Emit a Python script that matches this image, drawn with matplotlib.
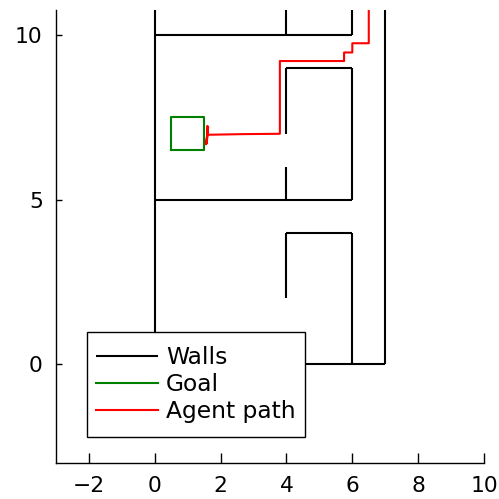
import numpy as np
import matplotlib
matplotlib.use("Agg")
import matplotlib.pyplot as plt
from matplotlib.path import Path

# Maze walls as line segments: (x0, y0, x1, y1)
wall_segments = [
    (0, 0, 0, 11),
    (0, 10, 6, 10),
    (4, 10, 4, 11),
    (6, 10, 6, 11),
    (4, 7, 4, 9),
    (4, 9, 6, 9),
    (6, 9, 6, 5),
    (6, 5, 0, 5),
    (4, 5, 4, 6),
    (4, 2, 4, 4),
    (4, 4, 6, 4),
    (6, 4, 6, 0),
    (0, 0, 7, 0),
    (7, 0, 7, 11),
]

# Goal region (square)
goal_x = [0.5, 1.5, 1.5, 0.5, 0.5]
goal_y = [6.5, 6.5, 7.5, 7.5, 6.5]

# Agent trajectory
path_x = [6.5, 6.5, 6.0, 6.0, 5.75, 5.75, 3.8, 3.8, 2.7, 1.6,
          1.6, 1.58, 1.62, 1.56, 1.61, 1.6]
path_y = [11.0, 9.75, 9.75, 9.47, 9.47, 9.21, 9.21, 7.0, 6.99, 6.97,
          7.24, 6.72, 7.2, 6.68, 7.1, 6.98]

xlim = (-3, 10)
ylim = (-3, 10.76)
xticks = [-2, 0, 2, 4, 6, 8, 10]
yticks = [0, 5, 10]

fig = plt.figure(figsize=(4.99, 4.99), dpi=100)
W = H = 499
ax = fig.add_axes([56 / W, (499 - 463) / H, (484 - 56) / W, (463 - 10) / H])

lw = 1.5
for i, (x0, y0, x1, y1) in enumerate(wall_segments):
    ax.plot([x0, x1], [y0, y1], color="black", lw=lw,
            solid_capstyle="butt", label="Walls" if i == 0 else None)
ax.plot(goal_x, goal_y, color="#008000", lw=lw, label="Goal")
ax.plot(path_x, path_y, color="red", lw=lw, label="Agent path")

ax.set_xlim(*xlim)
ax.set_ylim(*ylim)
ax.set_xticks(xticks)
ax.set_yticks(yticks)
ax.set_xticklabels([f"{t}".replace("-", "\u2212") for t in xticks])
ax.set_yticklabels([str(t) for t in yticks])

for side in ("top", "right"):
    ax.spines[side].set_visible(False)
for side in ("left", "bottom"):
    ax.spines[side].set_linewidth(1.0)
    ax.spines[side].set_color("black")

ax.tick_params(axis="x", direction="in", length=7, width=1.0,
               labelsize=15.7, pad=9)
ax.tick_params(axis="y", direction="in", length=4.3, width=1.0,
               labelsize=15.7, pad=9.5)

# legend frame with extra vertical padding (display pixels)
EXTRA_Y = 5.5


def legend_box(x0, y0, width, height, mutation_size):
    return Path([(x0, y0 - EXTRA_Y), (x0 + width, y0 - EXTRA_Y),
                 (x0 + width, y0 + height + EXTRA_Y),
                 (x0, y0 + height + EXTRA_Y), (x0, y0 - EXTRA_Y)],
                closed=True)


leg = ax.legend(loc="upper left",
                bbox_to_anchor=((87 - 56) / 428,
                                (463 - 332 - EXTRA_Y) / 453),
                borderaxespad=0, fontsize=16.8, frameon=True, fancybox=False,
                handlelength=2.66, handletextpad=0.35, labelspacing=0.16,
                borderpad=0.38)
frame = leg.get_frame()
frame.set_boxstyle(legend_box)
frame.set_edgecolor("black")
frame.set_linewidth(1.0)
frame.set_alpha(1)

fig.savefig("out.png", dpi=100)
